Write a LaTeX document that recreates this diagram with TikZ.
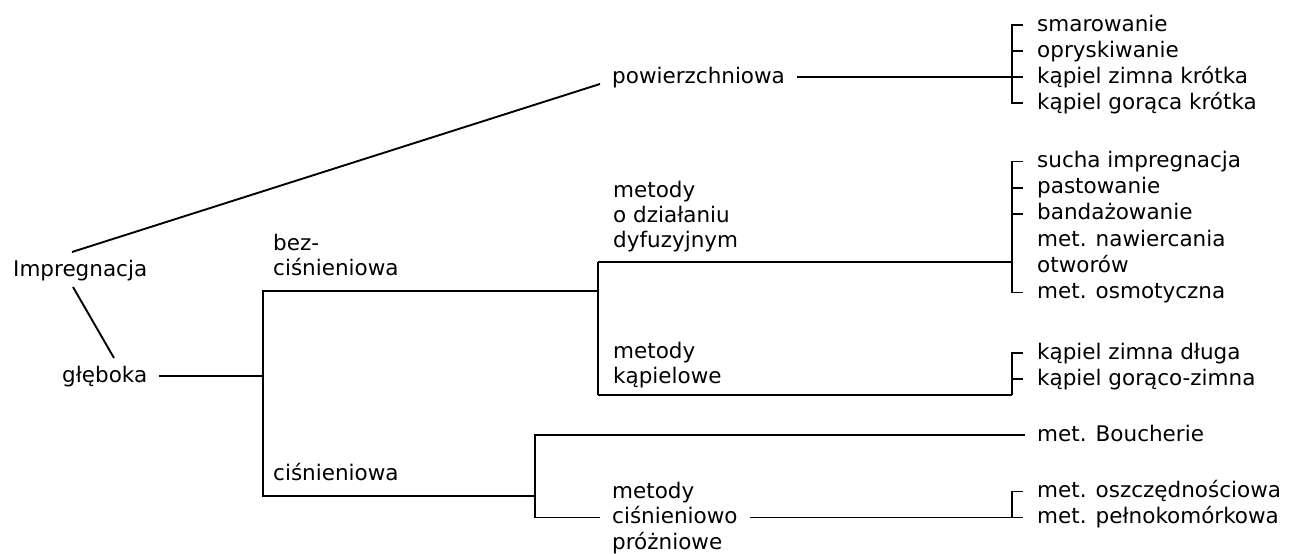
\documentclass[tikz,border=0pt]{standalone}
\usepackage{fontspec}
\setmainfont{DejaVu Sans}
\begin{document}
\begin{tikzpicture}[x=1pt,y=-1pt,
  lbl/.style={anchor=base west, inner sep=0pt, font=\fontsize{21.5}{25.5}\selectfont},
  ln/.style={line width=1.9pt},
]
\fill[white] (0,0) rectangle (1294,554);
\useasboundingbox (0,0) rectangle (1294,554);

% ---- labels of the tree ----
\node[lbl] (imp)  at (13,276)  {Impregnacja};
\node[lbl] (pow)  at (612,83)  {powierzchniowa};
\node[lbl] (gleb) at (62,382)  {głęboka};
\node[lbl] (bez1) at (273,250) {bez-};
\node[lbl] (bez2) at (273,275) {ciśnieniowa};
\node[lbl] (cis)  at (273,480) {ciśnieniowa};
\node[lbl] (dyf1) at (613,197) {metody};
\node[lbl] (dyf2) at (613,222) {o działaniu};
\node[lbl] (dyf3) at (613,247) {dyfuzyjnym};
\node[lbl] (kap1) at (613,358) {metody};
\node[lbl] (kap2) at (613,383) {kąpielowe};
\node[lbl] (cp1)  at (612,498) {metody};
\node[lbl] (cp2)  at (612,523.5) {ciśnieniowo};
\node[lbl] (cp3)  at (612,549) {próżniowe};

% ---- leaves ----
\node[lbl] (a1) at (1037,31)  {smarowanie};
\node[lbl] (a2) at (1037,57)  {opryskiwanie};
\node[lbl] (a3) at (1037,83)  {kąpiel zimna krótka};
\node[lbl] (a4) at (1037,109) {kąpiel gorąca krótka};
\node[lbl] (b1) at (1037,167.5) {sucha impregnacja};
\node[lbl] (b2) at (1037,193.7) {pastowanie};
\node[lbl] (b3) at (1037,219.9) {bandażowanie};
\node[lbl] (b4) at (1037,246.1) {met. nawiercania};
\node[lbl] (b5) at (1037,272.3) {otworów};
\node[lbl] (b6) at (1037,298.5) {met. osmotyczna};
\node[lbl] (c1) at (1037,359) {kąpiel zimna długa};
\node[lbl] (c2) at (1037,385) {kąpiel gorąco-zimna};
\node[lbl] (bou) at (1037,441) {met. Boucherie};
\node[lbl] (d1) at (1037,497.5) {met. oszczędnościowa};
\node[lbl] (d2) at (1037,523.5) {met. pełnokomórkowa};

% ---- junction points ----
\coordinate (impU) at (72,252);
\coordinate (powL) at (600,84);
\coordinate (impD) at (73,287);
\coordinate (glebU) at (114,358);
\coordinate (j1) at (263,291);
\coordinate (k0) at (598,291);
\coordinate (k1) at (598,262);
\coordinate (k2) at (598,395);
\coordinate (m0) at (535,496);
\coordinate (m2) at (535,517.5);
\coordinate (bx) at (1012,0);

% ---- connectors ----
\draw[ln] (impU) -- (powL);
\draw[ln] (impD) -- (glebU);
\draw[ln] ([xshift=12pt,yshift=6pt]pow.base east) -- ([yshift=6pt]a3.base west -| bx);
\draw[ln] ([xshift=12pt,yshift=6pt]gleb.base east) coordinate (g0) -- (g0 -| j1);
\draw[ln] (k0) -- (j1) |- (m0);
\draw[ln] (k1) -- (k2);
\draw[ln] (k1) -- (k1 -| bx);
\draw[ln] (k2) -- (k2 -| bx);
\draw[ln] ([xshift=-12pt,yshift=6pt]bou.base west) -| (m2)
          -- ([xshift=-12pt,yshift=6pt]cp2.base west);
\draw[ln] ([xshift=12pt,yshift=6pt]cp2.base east) -- ([yshift=6pt]d2.base west -| bx);

% ---- brackets of the leaves ----
\foreach \top/\bot in {a1/a4, b1/b6, d1/d2} {
  \draw[ln] ([xshift=-14pt,yshift=6pt]\top.base west) -| ([yshift=6pt]\bot.base west -| bx)
            -- ([xshift=-14pt,yshift=6pt]\bot.base west);
}
\foreach \n in {a2, a3, b2, b3, c2} {
  \draw[ln] ([yshift=6pt]\n.base west -| bx) -- ([xshift=-14pt,yshift=6pt]\n.base west);
}
\draw[ln] ([xshift=-14pt,yshift=6pt]c1.base west) -| (k2 -| bx);
\end{tikzpicture}
\end{document}
